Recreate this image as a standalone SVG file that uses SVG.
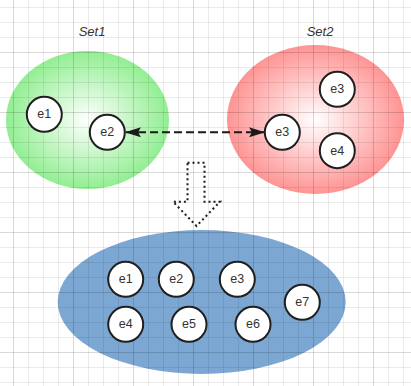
<svg xmlns="http://www.w3.org/2000/svg" width="411" height="386" viewBox="0 0 411 386">
<defs>
<radialGradient id="gGreen" cx="0.5" cy="0.5" r="0.5"><stop offset="0" stop-color="#ffffff"/><stop offset="1" stop-color="#92ee92"/></radialGradient>
<radialGradient id="gRed" cx="0.5" cy="0.5" r="0.5"><stop offset="0" stop-color="#ffffff"/><stop offset="1" stop-color="#ff9494"/></radialGradient>
<pattern id="minor" x="13" y="7" width="15" height="15" patternUnits="userSpaceOnUse"><path d="M0.5 0V15M0 0.5H15" stroke="#000" stroke-opacity="0.08" stroke-width="1" fill="none"/></pattern>
<pattern id="major" x="13" y="52" width="60" height="60" patternUnits="userSpaceOnUse"><path d="M0.5 0V60M0 0.5H60" stroke="#000" stroke-opacity="0.08" stroke-width="1" fill="none"/></pattern>
<marker id="ah" viewBox="0 0 16 10" refX="15" refY="5" markerWidth="16" markerHeight="10" markerUnits="userSpaceOnUse" orient="auto-start-reverse"><path d="M0 0L16 5L0 10L3 5Z" fill="#1a1a1a"/></marker>
</defs>
<style>
.el circle{fill:#fff;stroke:#1f1f1f;stroke-width:2}
.el text{font-family:"Liberation Sans",Arial,sans-serif;font-size:12.5px;fill:#333;text-anchor:middle;dominant-baseline:central}
.set{font-family:"Liberation Sans",Arial,sans-serif;font-size:13px;font-style:italic;fill:#333;text-anchor:middle}
</style>
<rect width="411" height="386" fill="#fff"/>
<g id="set1"><ellipse cx="87.5" cy="120" rx="81.5" ry="69" fill="url(#gGreen)"/></g>
<g id="set2"><ellipse cx="315.5" cy="119.5" rx="88.5" ry="74.5" fill="url(#gRed)"/></g>
<g id="union"><ellipse cx="201.7" cy="302" rx="144" ry="72" fill="#7ba7d2"/></g>
<g id="grid">
<rect width="411" height="386" fill="url(#minor)"/>
<rect width="411" height="386" fill="url(#major)"/>
</g>
<text class="set" x="92" y="36">Set1</text>
<text class="set" x="320" y="36">Set2</text>
<g id="connectors">
<line x1="126" y1="132.3" x2="264" y2="132.3" stroke="#1a1a1a" stroke-width="2" stroke-dasharray="8 4" marker-start="url(#ah)" marker-end="url(#ah)"/>
<path d="M187.5 162.7H204.5V201.7H220L196.5 226L173 201.7H187.5Z" fill="none" stroke="#1a1a1a" stroke-width="2" stroke-dasharray="2 3"/>
</g>
<g id="s1e1" class="el"><circle cx="44.3" cy="114.3" r="17.5"/><text x="44.3" y="114.3">e1</text></g>
<g id="s1e2" class="el"><circle cx="107.3" cy="132.3" r="17.5"/><text x="107.3" y="132.3">e2</text></g>
<g id="s2e3a" class="el"><circle cx="337.3" cy="89.3" r="17.5"/><text x="337.3" y="89.3">e3</text></g>
<g id="s2e3b" class="el"><circle cx="282.3" cy="132.3" r="17.5"/><text x="282.3" y="132.3">e3</text></g>
<g id="s2e4" class="el"><circle cx="337.3" cy="150.7" r="17.5"/><text x="337.3" y="150.7">e4</text></g>
<g id="ue1" class="el"><circle cx="125.7" cy="279.3" r="17.5"/><text x="125.7" y="279.3">e1</text></g>
<g id="ue2" class="el"><circle cx="176.3" cy="279.3" r="17.5"/><text x="176.3" y="279.3">e2</text></g>
<g id="ue3" class="el"><circle cx="237.3" cy="279.3" r="17.5"/><text x="237.3" y="279.3">e3</text></g>
<g id="ue4" class="el"><circle cx="125.7" cy="324.3" r="17.5"/><text x="125.7" y="324.3">e4</text></g>
<g id="ue5" class="el"><circle cx="189" cy="324.3" r="17.5"/><text x="189" y="324.3">e5</text></g>
<g id="ue6" class="el"><circle cx="253" cy="324.3" r="17.5"/><text x="253" y="324.3">e6</text></g>
<g id="ue7" class="el"><circle cx="302.3" cy="302.3" r="17.5"/><text x="302.3" y="302.3">e7</text></g>
</svg>
